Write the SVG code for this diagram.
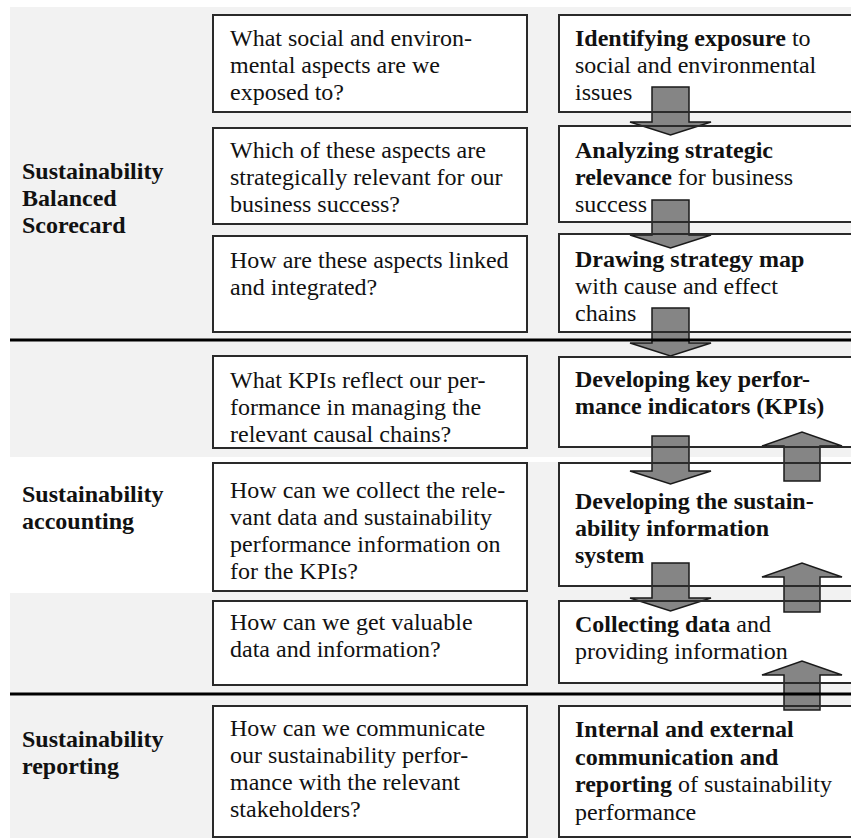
<svg xmlns="http://www.w3.org/2000/svg" width="851" height="838" viewBox="0 0 851 838">
  <style>
    text { font-family: "Liberation Serif", "Times New Roman", serif; font-size: 24px; fill: #111; }
    .b { font-weight: bold; }
    .boxfill { fill: #fff; stroke: none; }
    .box { fill: none; stroke: #2a2a2a; stroke-width: 2; }
    .arrow { fill: #858585; stroke: #1a1a1a; stroke-width: 1.5; stroke-linejoin: miter; }
    .sep { stroke: #000; stroke-width: 3; }
  </style>
  <defs>
    <!-- block arrows, drawn around a local origin at the shaft's centre-line -->
    <polygon id="down" class="arrow" points="-18.5,0 18.5,0 18.5,35 40.5,35 0,48 -40.5,35 -18.5,35"/>
    <polygon id="up" class="arrow" points="-18,49 18,49 18,14 40,14 0,0 -40,14 -18,14"/>
  </defs>

  <!-- background bands -->
  <g id="bands">
    <rect x="0" y="0" width="851" height="838" fill="#fff"/>
    <rect x="10" y="7" width="841" height="831" fill="#f2f2f2"/>
    <rect x="0" y="457" width="851" height="5" fill="#fff"/>
    <rect x="0" y="457" width="213" height="136" fill="#fff"/>
  </g>

  <!-- box fills -->
  <g id="fills">
    <rect class="boxfill" x="213" y="15" width="314" height="97"/>
    <rect class="boxfill" x="213" y="128" width="314" height="96"/>
    <rect class="boxfill" x="213" y="236" width="314" height="96"/>
    <rect class="boxfill" x="213" y="356" width="314" height="92"/>
    <rect class="boxfill" x="213" y="463" width="314" height="128"/>
    <rect class="boxfill" x="213" y="601" width="314" height="84"/>
    <rect class="boxfill" x="213" y="706" width="314" height="131"/>
    <rect class="boxfill" x="559" y="15" width="300" height="97"/>
    <rect class="boxfill" x="559" y="126" width="300" height="96"/>
    <rect class="boxfill" x="559" y="234" width="300" height="98"/>
    <rect class="boxfill" x="559" y="357" width="300" height="90"/>
    <rect class="boxfill" x="559" y="463" width="300" height="123"/>
    <rect class="boxfill" x="559" y="601" width="300" height="82"/>
    <rect class="boxfill" x="559" y="706" width="300" height="131"/>
  </g>

  <!-- connectors: block arrows between the step boxes -->
  <g id="connectors">
    <use href="#down" x="670.5" y="87"/>
    <use href="#down" x="670.5" y="200"/>
    <use href="#down" x="670.5" y="308"/>
    <use href="#down" x="670.5" y="436"/>
    <use href="#down" x="670.5" y="563"/>
    <use href="#up" x="802" y="432"/>
    <use href="#up" x="802" y="563"/>
    <use href="#up" x="802" y="661"/>
  </g>

  <!-- phase labels -->
  <g id="label-scorecard">
    <text class="b" x="22" y="179">Sustainability</text>
    <text class="b" x="22" y="206">Balanced</text>
    <text class="b" x="22" y="233">Scorecard</text>
  </g>
  <g id="label-accounting">
    <text class="b" x="22" y="502">Sustainability</text>
    <text class="b" x="22" y="529">accounting</text>
  </g>
  <g id="label-reporting">
    <text class="b" x="22" y="747">Sustainability</text>
    <text class="b" x="22" y="774">reporting</text>
  </g>

  <!-- question boxes -->
  <g id="q1">
    <rect class="box" x="213" y="15" width="314" height="97"/>
    <text x="230" y="46">What social and environ-</text>
    <text x="230" y="73">mental aspects are we</text>
    <text x="230" y="100">exposed to?</text>
  </g>
  <g id="q2">
    <rect class="box" x="213" y="128" width="314" height="96"/>
    <text x="230" y="158">Which of these aspects are</text>
    <text x="230" y="185">strategically relevant for our</text>
    <text x="230" y="212">business success?</text>
  </g>
  <g id="q3">
    <rect class="box" x="213" y="236" width="314" height="96"/>
    <text x="230" y="268">How are these aspects linked</text>
    <text x="230" y="295">and integrated?</text>
  </g>
  <g id="q4">
    <rect class="box" x="213" y="356" width="314" height="92"/>
    <text x="230" y="388">What KPIs reflect our per-</text>
    <text x="230" y="415">formance in managing the</text>
    <text x="230" y="442">relevant causal chains?</text>
  </g>
  <g id="q5">
    <rect class="box" x="213" y="463" width="314" height="128"/>
    <text x="230" y="498">How can we collect the rele-</text>
    <text x="230" y="525">vant data and sustainability</text>
    <text x="230" y="552">performance information on</text>
    <text x="230" y="579">for the KPIs?</text>
  </g>
  <g id="q6">
    <rect class="box" x="213" y="601" width="314" height="84"/>
    <text x="230" y="630">How can we get valuable</text>
    <text x="230" y="657">data and information?</text>
  </g>
  <g id="q7">
    <rect class="box" x="213" y="706" width="314" height="131"/>
    <text x="230" y="736">How can we communicate</text>
    <text x="230" y="763">our sustainability perfor-</text>
    <text x="230" y="790">mance with the relevant</text>
    <text x="230" y="817">stakeholders?</text>
  </g>

  <!-- step boxes -->
  <g id="s1">
    <rect class="box" x="559" y="15" width="300" height="97"/>
    <text x="575" y="46"><tspan class="b">Identifying exposure</tspan> to</text>
    <text x="575" y="73">social and environmental</text>
    <text x="575" y="100">issues</text>
  </g>
  <g id="s2">
    <rect class="box" x="559" y="126" width="300" height="96"/>
    <text x="575" y="158" class="b">Analyzing strategic</text>
    <text x="575" y="185"><tspan class="b">relevance</tspan> for business</text>
    <text x="575" y="212">success</text>
  </g>
  <g id="s3">
    <rect class="box" x="559" y="234" width="300" height="98"/>
    <text x="575" y="267" class="b">Drawing strategy map</text>
    <text x="575" y="294">with cause and effect</text>
    <text x="575" y="321">chains</text>
  </g>
  <g id="s4">
    <rect class="box" x="559" y="357" width="300" height="90"/>
    <text x="575" y="387" class="b">Developing key perfor-</text>
    <text x="575" y="414" class="b">mance indicators (KPIs)</text>
  </g>
  <g id="s5">
    <rect class="box" x="559" y="463" width="300" height="123"/>
    <text x="575" y="509" class="b">Developing the sustain-</text>
    <text x="575" y="536" class="b">ability information</text>
    <text x="575" y="563" class="b">system</text>
  </g>
  <g id="s6">
    <rect class="box" x="559" y="601" width="300" height="82"/>
    <text x="575" y="632"><tspan class="b">Collecting data</tspan> and</text>
    <text x="575" y="659">providing information</text>
  </g>
  <g id="s7">
    <rect class="box" x="559" y="706" width="300" height="131"/>
    <text x="575" y="737" class="b">Internal and external</text>
    <text x="575" y="765" class="b">communication and</text>
    <text x="575" y="792"><tspan class="b">reporting</tspan> of sustainability</text>
    <text x="575" y="820">performance</text>
  </g>

  <!-- phase separators -->
  <g id="separators">
    <line class="sep" x1="10" y1="340" x2="851" y2="340"/>
    <line class="sep" x1="10" y1="694" x2="851" y2="694"/>
  </g>
</svg>
